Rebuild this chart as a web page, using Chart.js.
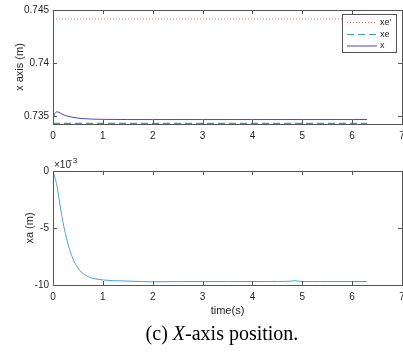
<!DOCTYPE html>
<html>
<head>
<meta charset="utf-8">
<script src="https://cdn.jsdelivr.net/npm/chart.js@4.4.0/dist/chart.umd.min.js"></script>
<style>
html, body { margin:0; padding:0; background:#fff; overflow:hidden; width:403px; height:357px; }
#wrap { position:relative; width:403px; height:357px; overflow:hidden; }
#topBox { position:absolute; left:0; top:0; width:420px; height:150px; }
#botBox { position:absolute; left:0; top:150px; width:420px; height:175px; }
#caption { position:absolute; left:0; top:322px; width:444px; text-align:center; font-family:"Liberation Serif", serif; font-size:20px; line-height:22px; color:#000; }
</style>
</head>
<body>
<div id="wrap">
  <div id="topBox"><canvas id="topChart"></canvas></div>
  <div id="botBox"><canvas id="botChart"></canvas></div>
  <div id="caption">(c) <i>X</i>-axis position.</div>
</div>
<script>
// top plot: x axis (m)
const time_x = [0, 0.02, 0.05, 0.08, 0.12, 0.2, 0.3, 0.4, 0.5, 0.6, 0.8, 1.0, 1.5, 2, 3, 4, 5, 6, 6.3];
const x_pos = [0.73430, 0.73500, 0.73530, 0.73538, 0.73533, 0.73512, 0.73496, 0.73486, 0.73479, 0.73474, 0.73469, 0.73467, 0.73465, 0.73465, 0.73465, 0.73465, 0.73465, 0.73465, 0.73465];
const time_ref = [0, 6.3];
const xe_ref = [0.73428, 0.73428];
const xe_prime = [0.74416, 0.74416];

// bottom plot: xa (m)
const time_xa = [0, 0.04, 0.08, 0.12, 0.16, 0.2, 0.25, 0.3, 0.35, 0.42, 0.5, 0.58, 0.68, 0.78, 0.9, 1.0, 1.2, 1.45, 1.8, 2.0, 2.5, 3, 3.5, 4, 4.5, 4.75, 4.85, 4.95, 5.2, 5.5, 6, 6.3];
const xa = [0, -0.0006, -0.0013, -0.0024, -0.0035, -0.0045, -0.0055, -0.0064, -0.0071, -0.0079, -0.0085, -0.00893, -0.0092, -0.0094, -0.0095, -0.00956, -0.00962, -0.00965, -0.0097, -0.00972, -0.0097, -0.0097, -0.0097, -0.0097, -0.00969, -0.00967, -0.00962, -0.00968, -0.0097, -0.0097, -0.0097, -0.0097];

// ticks
const x_ticks = [0, 1, 2, 3, 4, 5, 6, 7];
const top_y_ticks = [0.735, 0.74, 0.745];
const top_y_labels = ['0.735', '0.74', '0.745'];
const bot_y_ticks = [-0.01, -0.005, 0];
const bot_y_labels = ['-10', '-5', '0'];

const tickFont = { family: 'Liberation Sans, Arial, sans-serif', size: 10 };
const titleFont = { family: 'Liberation Sans, Arial, sans-serif', size: 11 };
const textColor = '#262626';

function pts(t, v){
    let out = [];
    for(let i = 0; i < t.length; i++){
        out.push({ x: t[i], y: v[i] });
    }
    return out
}

// box + inward ticks like matlab
const framePlugin = {
    id: 'frame',
    afterDatasetsDraw(chart){
        const { ctx, chartArea: a, scales } = chart;
        ctx.save();
        ctx.strokeStyle = '#555';
        ctx.lineWidth = 1;
        ctx.strokeRect(Math.round(a.left) + 0.5, Math.round(a.top) + 0.5, Math.round(a.right - a.left), Math.round(a.bottom - a.top));
        ctx.beginPath();
        scales.x.ticks.forEach(t => {
            const px = Math.round(scales.x.getPixelForValue(t.value)) + 0.5;
            ctx.moveTo(px, a.bottom); ctx.lineTo(px, a.bottom - 4);
            ctx.moveTo(px, a.top); ctx.lineTo(px, a.top + 4);
        });
        scales.y.ticks.forEach(t => {
            const py = Math.round(scales.y.getPixelForValue(t.value)) + 0.5;
            ctx.moveTo(a.left, py); ctx.lineTo(a.left + 4, py);
            ctx.moveTo(a.right, py); ctx.lineTo(a.right - 4, py);
        });
        ctx.stroke();
        ctx.restore();
    }
};

const legendPlugin = {
    id: 'boxLegend',
    afterDraw(chart){
        const { ctx } = chart;
        const x0 = 342.5, y0 = 14.5, w = 54, h = 38;
        ctx.save();
        ctx.fillStyle = '#fff';
        ctx.fillRect(x0, y0, w, h);
        ctx.strokeStyle = '#555';
        ctx.lineWidth = 1;
        ctx.strokeRect(x0, y0, w, h);
        ctx.font = '9px Liberation Sans, Arial, sans-serif';
        ctx.textBaseline = 'middle';
        const rows = [22.5, 34.5, 46];
        chart.data.datasets.forEach((ds, i) => {
            const y = rows[i];
            ctx.beginPath();
            ctx.strokeStyle = ds.borderColor;
            ctx.setLineDash(ds.borderDash || []);
            ctx.moveTo(347, y); ctx.lineTo(377, y);
            ctx.stroke();
            ctx.setLineDash([]);
            ctx.fillStyle = textColor;
            ctx.fillText(ds.label, 380, y);
        });
        ctx.restore();
    }
};

const exponentPlugin = {
    id: 'exponent',
    afterDraw(chart){
        const { ctx, chartArea: a } = chart;
        ctx.save();
        ctx.fillStyle = textColor;
        ctx.textBaseline = 'alphabetic';
        ctx.font = '10px Liberation Sans, Arial, sans-serif';
        ctx.fillText('\u00d710', a.left + 1, a.top - 3);
        ctx.font = '8px Liberation Sans, Arial, sans-serif';
        ctx.fillText('\u22123', a.left + 15, a.top - 8);
        ctx.restore();
    }
};

function makeOptions(yMin, yMax, yTicks, yLabels, yTitle, yTitlePad, xTitle, xHeight, padTop){
    return {
        responsive: true,
        maintainAspectRatio: false,
        animation: false,
        layout: { padding: { left: 0, right: 18, top: padTop, bottom: 0 } },
        plugins: { legend: { display: false }, tooltip: { enabled: false } },
        scales: {
            x: {
                type: 'linear',
                min: 0,
                max: 7,
                grid: { display: false, drawTicks: false },
                border: { display: false },
                afterBuildTicks: (scale) => { scale.ticks = x_ticks.map(v => ({ value: v })) },
                afterFit: (scale) => { scale.height = xHeight },
                ticks: { font: tickFont, color: textColor, padding: 6, maxRotation: 0, autoSkip: false,
                    callback: (v) => String(v) },
                title: { display: !!xTitle, text: xTitle, font: titleFont, color: textColor, padding: { top: 0, bottom: 7 } }
            },
            y: {
                type: 'linear',
                min: yMin,
                max: yMax,
                grid: { display: false, drawTicks: false },
                border: { display: false },
                afterBuildTicks: (scale) => { scale.ticks = yTicks.map(v => ({ value: v })) },
                afterFit: (scale) => { scale.width = 53 },
                ticks: { font: tickFont, color: textColor, padding: 4,
                    callback: (v) => { const k = yTicks.indexOf(v); return k >= 0 ? yLabels[k] : '' } },
                title: { display: true, text: yTitle, font: titleFont, color: textColor, padding: { top: yTitlePad, bottom: 0 } }
            }
        }
    }
}

const topConfig = {
    type: 'line',
    data: {
        datasets: [
            { label: "xe'", data: pts(time_ref, xe_prime), borderColor: '#e06a6a', borderWidth: 1, borderDash: [1, 2], pointRadius: 0 },
            { label: 'xe', data: pts(time_ref, xe_ref), borderColor: '#3f9fb5', borderWidth: 1.2, borderDash: [7, 4], pointRadius: 0 },
            { label: 'x', data: pts(time_x, x_pos), borderColor: '#4a4aa8', borderWidth: 1, pointRadius: 0, cubicInterpolationMode: 'monotone' }
        ]
    },
    options: makeOptions(0.73423, 0.745, top_y_ticks, top_y_labels, 'x axis (m)', 13.4, '', 26, 8),
    plugins: [framePlugin, legendPlugin]
};

const botConfig = {
    type: 'line',
    data: {
        datasets: [
            { label: 'xa', data: pts(time_xa, xa), borderColor: '#4aa3c8', borderWidth: 1, pointRadius: 0, cubicInterpolationMode: 'monotone' }
        ]
    },
    options: makeOptions(-0.01, 0, bot_y_ticks, bot_y_labels, 'xa (m)', 23.4, 'time(s)', 40, 21),
    plugins: [framePlugin, exponentPlugin]
};

new Chart(document.getElementById('topChart'), topConfig);
new Chart(document.getElementById('botChart'), botConfig);
</script>
</body>
</html>
